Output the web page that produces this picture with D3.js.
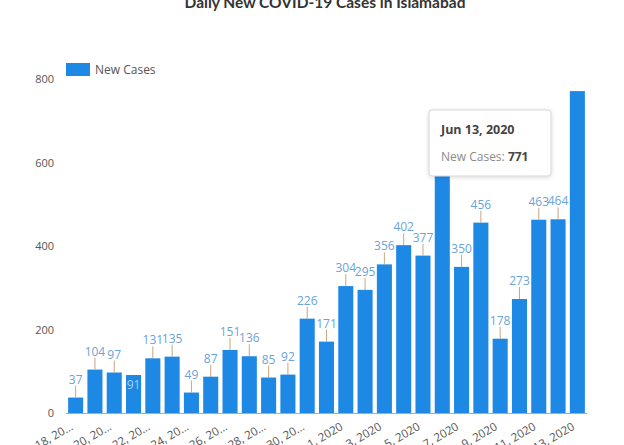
<!DOCTYPE html>
<html>
<head>
<meta charset="utf-8">
<script src="https://cdn.jsdelivr.net/npm/d3@7"></script>
<style>
	body { margin: 0; background: #fff; }
	svg { display: block; font-family: 'Open Sans', sans-serif; }
</style>
</head>
<body>
<div id="chart"></div>
<script>
'use strict';

// Data
var dates = [
	'May 18, 2020', 'May 19, 2020', 'May 20, 2020', 'May 21, 2020', 'May 22, 2020',
	'May 23, 2020', 'May 24, 2020', 'May 25, 2020', 'May 26, 2020', 'May 27, 2020',
	'May 28, 2020', 'May 29, 2020', 'May 30, 2020', 'May 31, 2020', 'Jun 1, 2020',
	'Jun 2, 2020', 'Jun 3, 2020', 'Jun 4, 2020', 'Jun 5, 2020', 'Jun 6, 2020',
	'Jun 7, 2020', 'Jun 8, 2020', 'Jun 9, 2020', 'Jun 10, 2020', 'Jun 11, 2020',
	'Jun 12, 2020', 'Jun 13, 2020'
];
var newCases = [37, 104, 97, 91, 131, 135, 49, 87, 151, 136, 85, 92, 226, 171, 304,
	295, 356, 402, 377, 630, 350, 456, 178, 273, 463, 464, 771];
// labels shown under the axis (every second day, long ones cut short)
var tickDates = ['May 18, 2020', 'May 20, 2020', 'May 22, 2020', 'May 24, 2020', 'May 26, 2020',
	'May 28, 2020', 'May 30, 2020', 'Jun 1, 2020', 'Jun 3, 2020', 'Jun 5, 2020',
	'Jun 7, 2020', 'Jun 9, 2020', 'Jun 11, 2020', 'Jun 13, 2020'];
var tickLabels = ['May 18, 20\u2026', 'May 20, 20\u2026', 'May 22, 20\u2026', 'May 24, 20\u2026',
	'May 26, 20\u2026', 'May 28, 20\u2026', 'May 30, 20\u2026', 'Jun 1, 2020', 'Jun 3, 2020',
	'Jun 5, 2020', 'Jun 7, 2020', 'Jun 9, 2020', 'Jun 11, 2020', 'Jun 13, 2020'];
var yTicks = [0, 200, 400, 600, 800];
var labelInside = ['May 21, 2020'];
var tooltipDate = 'Jun 13, 2020';

var title = 'Daily New COVID-19 Cases in Islamabad';
var seriesName = 'New Cases';

// Dimensions
var width = 624, height = 445;
var margin = { top: 79, right: 37, bottom: 32, left: 66 };
var blue = '#1e88e5';
var tipBox = { x: 429, y: 110, w: 122, h: 66 };

var svg = d3.select('#chart')
	.append('svg')
	.attr('width', width)
	.attr('height', height);

// Scales
var x = d3.scaleBand()
	.domain(dates)
	.range([margin.left, width - margin.right])
	.paddingInner(0.22)
	.paddingOuter(0.11);

var y = d3.scaleLinear()
	.domain([0, 800])
	.range([height - margin.bottom, margin.top]);

// Title (cut off at top like the screenshot)
svg.append('text')
	.attr('x', 325)
	.attr('y', 8)
	.attr('text-anchor', 'middle')
	.style('font-family', 'Lato, sans-serif')
	.style('font-weight', 'bold')
	.style('font-size', '15.5px')
	.style('fill', '#333')
	.text(title);

// Legend
svg.append('rect')
	.attr('x', 66).attr('y', 63)
	.attr('width', 24).attr('height', 13)
	.attr('fill', blue);
svg.append('text')
	.attr('x', 95).attr('y', 74)
	.style('font-size', '12px')
	.style('fill', '#555')
	.text(seriesName);

// Y axis
var yAxis = svg.append('g')
	.attr('transform', 'translate(' + (margin.left - 12) + ',0)')
	.call(d3.axisLeft(y).tickValues(yTicks).tickSize(0).tickPadding(0));
yAxis.select('.domain').remove();
yAxis.selectAll('text')
	.style('font-size', '11px')
	.style('font-family', 'Open Sans, sans-serif')
	.style('fill', '#555');

// X axis
var labelFor = {};
tickDates.forEach(function(d, i) { labelFor[d] = tickLabels[i]; });

var xAxis = svg.append('g')
	.attr('transform', 'translate(0,' + y(0) + ')')
	.call(d3.axisBottom(x)
		.tickValues(tickDates)
		.tickFormat(function(d) { return labelFor[d]; })
		.tickSize(0));
xAxis.select('.domain').remove();
xAxis.selectAll('text')
	.attr('text-anchor', 'end')
	.attr('dy', null)
	.attr('y', 0)
	.attr('transform', 'translate(-2,16) rotate(-30)')
	.style('font-size', '11.5px')
	.style('font-family', 'Open Sans, sans-serif')
	.style('fill', '#555');

// Bars
var bars = svg.selectAll('.bar')
	.data(dates)
	.enter()
	.append('g')
	.attr('class', 'bar');

bars.append('rect')
	.attr('x', function(d) { return x(d); })
	.attr('y', function(d, i) { return y(newCases[i]); })
	.attr('width', x.bandwidth())
	.attr('height', function(d, i) { return y(0) - y(newCases[i]); })
	.attr('fill', blue);

// Base line
svg.append('line')
	.attr('x1', x.range()[0]).attr('x2', x.range()[1])
	.attr('y1', y(0) + 0.5).attr('y2', y(0) + 0.5)
	.attr('stroke', '#c9a583')
	.attr('stroke-width', 1);

// Value labels with leader lines
// (labels that run past the plot top or sit under the tooltip are not shown)
bars.each(function(d, i) {
	var g = d3.select(this);
	var cx = x(d) + x.bandwidth() / 2;
	var top = y(newCases[i]);
	if (labelInside.indexOf(d) >= 0) {
		g.append('text')
			.attr('x', cx)
			.attr('y', top + 14)
			.attr('text-anchor', 'middle')
			.style('font-size', '12px')
			.style('fill', '#a9cdf2')
			.text(newCases[i]);
		return;
	}
	var ly = top - 14;
	if (ly - 10 < margin.top) return;
	var underTip = cx > tipBox.x && cx < tipBox.x + tipBox.w &&
		ly > tipBox.y && ly - 10 < tipBox.y + tipBox.h;
	if (underTip) return;
	g.append('line')
		.attr('x1', cx).attr('x2', cx)
		.attr('y1', top).attr('y2', top - 12)
		.attr('stroke', '#c9a583')
		.attr('stroke-width', 1);
	g.append('text')
		.attr('x', cx)
		.attr('y', ly)
		.attr('text-anchor', 'middle')
		.style('font-size', '12px')
		.style('fill', '#6aa3d8')
		.text(newCases[i]);
});

// Tooltip
var defs = svg.append('defs');
var filter = defs.append('filter').attr('id', 'shadow')
	.attr('x', '-20%').attr('y', '-20%').attr('width', '140%').attr('height', '150%');
filter.append('feDropShadow')
	.attr('dx', 0).attr('dy', 1).attr('stdDeviation', 2)
	.attr('flood-color', '#000').attr('flood-opacity', 0.15);

var tip = svg.append('g').attr('transform', 'translate(' + tipBox.x + ',' + tipBox.y + ')');
tip.append('rect')
	.attr('width', tipBox.w).attr('height', tipBox.h)
	.attr('rx', 3)
	.attr('fill', '#fff')
	.attr('stroke', '#d6d6d6')
	.attr('filter', 'url(#shadow)');
tip.append('text')
	.attr('x', 12).attr('y', 24)
	.style('font-size', '12.5px')
	.style('font-weight', 'bold')
	.style('fill', '#444')
	.text(tooltipDate);
var line2 = tip.append('text')
	.attr('x', 12).attr('y', 51)
	.style('font-size', '12px')
	.style('fill', '#8a8a8a');
line2.append('tspan').text(seriesName + ': ');
line2.append('tspan')
	.style('font-weight', 'bold')
	.style('fill', '#444')
	.text(newCases[dates.indexOf(tooltipDate)]);
</script>
</body>
</html>
